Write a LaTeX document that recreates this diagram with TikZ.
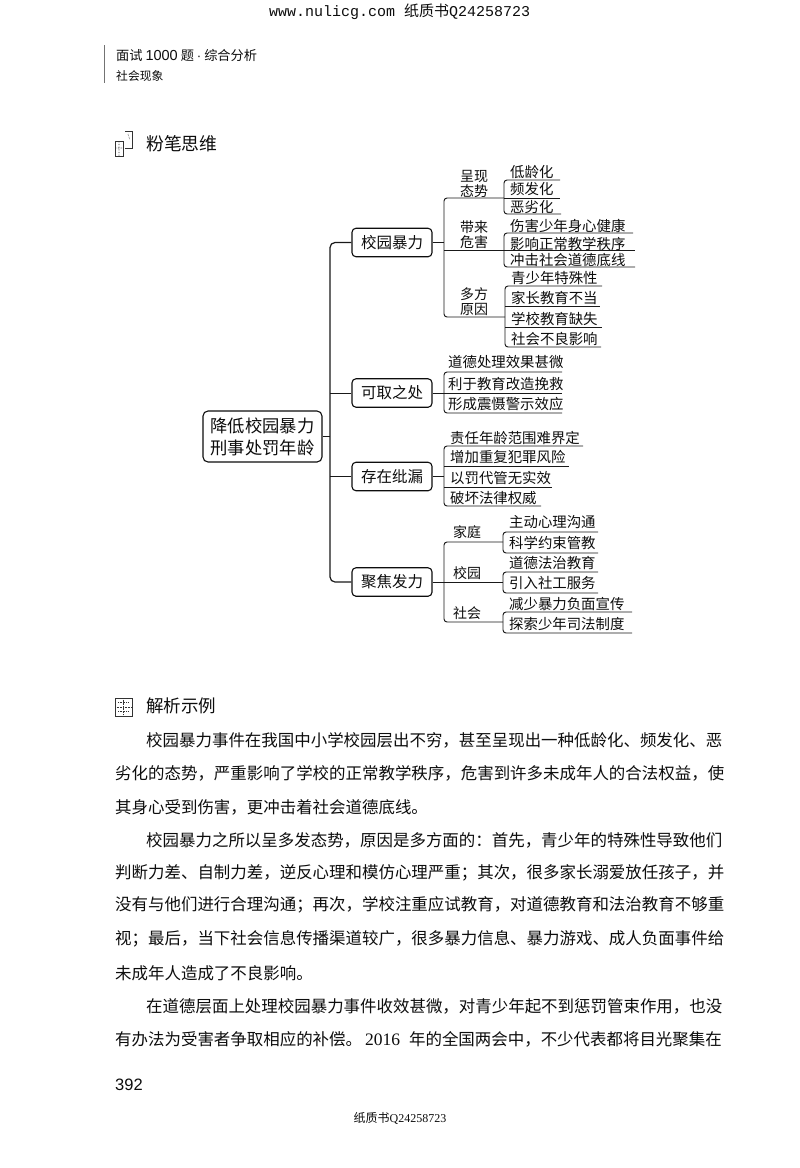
\documentclass[tikz,border=0pt]{standalone}
\usepackage{fontspec}
\setmainfont{Noto Sans CJK SC}
\newfontfamily\latinserif{Liberation Serif}
\newfontfamily\latinmono{Liberation Mono}
\newfontfamily\latinsans{Liberation Sans}
\newcommand\fs[2]{\fontsize{#1}{#2}\selectfont}
\tikzset{
  ink/.style={color=black!95},
  conn/.style={draw=black!90,line width=0.95pt},
  heavy/.style={draw=black!90,line width=1.2pt},
  rootbox/.style={draw=black!90,line width=1.1pt,rounded corners=5pt,minimum width=119pt,minimum height=51pt,inner sep=0pt,align=center,font=\fs{17.3}{22},ink},
  branchbox/.style={draw=black!90,line width=1.1pt,rounded corners=4pt,minimum width=80pt,minimum height=28.5pt,inner sep=0pt,font=\fs{15.5}{18},ink},
  midlabel/.style={inner sep=0pt,align=center,font=\fs{14}{15},ink},
  leaftext/.style={anchor=west,inner sep=0pt,font=\fs{14.4}{16},ink},
  bodytext/.style={anchor=west,inner sep=0pt,font=\fs{16.46}{18},ink},
}
% coordinates of one underline: name, x start, y, x end
\newcommand\ulc[4]{\coordinate (#1-a) at (#2,#3);\coordinate (#1-b) at (#4,#3);}
\newcommand\leaftxt[4]{\node[leaftext] (#1) at (#2,#3) {#4};}
\newcommand\bodyln[4]{\node[bodytext] (#1) at (#2,#3) {#4};}
\begin{document}
\begin{tikzpicture}[x=1pt,y=-1pt]
\useasboundingbox (0,0) rectangle (800,1168);
\fill[white] (0,0) rectangle (800,1168);
% page furniture
\node[inner sep=0pt,anchor=west,ink,font=\fs{15}{17}] (hdr) at (269,12) {{\latinmono www.nulicg.com }纸质书{\latinmono Q24258723}};
\coordinate (rt) at (104,45);\coordinate (rb) at (104,83);
\draw[draw=black!55,line width=1pt] (rt) -- (rb);
\node[inner sep=0pt,anchor=west,ink,font=\fs{13.2}{15}] (runa) at (116,55) {面试 {\latinsans\fs{14.5}{15}1000} 题 {\latinsans ·} 综合分析};
\node[inner sep=0pt,anchor=west,ink,font=\fs{11.8}{14}] (runb) at (116,76) {社会现象};
% icon 1
\draw[black!80,line width=0.7pt] (115,141) rectangle (123,156);
\draw[black!80,line width=0.7pt] (125,131) -- (132,131) -- (132,148) -- (125,148);
\draw[black!80,line width=0.6pt,densely dotted] (115,148) -- (123,148) (119,141) -- (119,156) (128,134) -- (130,140);
\node[inner sep=0pt,anchor=west,ink,font=\fs{17.8}{20}] (h1) at (146,144) {粉笔思维};
% root and branches
\node[rootbox] (root) at (262.5,436.5) {降低校园暴力\\刑事处罚年龄};
\node[branchbox] (b1) at (392,242.5) {校园暴力};
\node[branchbox] (b2) at (392,393) {可取之处};
\node[branchbox] (b3) at (392,476.5) {存在纰漏};
\node[branchbox] (b4) at (392,582) {聚焦发力};
\coordinate (tt) at (330,242.5);\coordinate (tb) at (330,582);
\coordinate (t2) at (330,393);\coordinate (t3) at (330,476.5);\coordinate (t0) at (330,436.5);
\draw[heavy,rounded corners=5pt] (b1.west) -- (tt) -- (tb) -- (b4.west);
\draw[conn] (root.east) -- (t0);
\draw[conn] (b2.west) -- (t2);
\draw[conn] (b3.west) -- (t3);
% 校园暴力
\ulc{sa}{444}{198}{504}\ulc{sb}{444}{250}{504}\ulc{sc}{444}{317}{505}
\coordinate (s1j) at (444,242.5);
\draw[conn,rounded corners=3pt] (sa-b) -- (sa-a) -- (sc-a) -- (sc-b);
\draw[conn] (sb-a) -- (sb-b);
\draw[conn] (b1.east) -- (s1j);
\node[midlabel] (m1) at (474,183.5) {呈现\\态势};
\node[midlabel] (m2) at (474,234.5) {带来\\危害};
\node[midlabel] (m3) at (474,301.5) {多方\\原因};
\ulc{a1}{504}{180}{560}\ulc{a2}{504}{198}{560}\ulc{a3}{504}{214}{561}
\draw[conn,rounded corners=3pt] (a1-b) -- (a1-a) -- (a3-a) -- (a3-b);
\draw[conn] (a2-a) -- (a2-b);
\leaftxt{ta1}{510}{172}{低龄化}\leaftxt{ta2}{510}{189}{频发化}\leaftxt{ta3}{510}{207}{恶劣化}
\ulc{c1}{504}{233}{633}\ulc{c2}{504}{250}{635}\ulc{c3}{504}{267}{635}
\draw[conn,rounded corners=3pt] (c1-b) -- (c1-a) -- (c3-a) -- (c3-b);
\draw[conn] (c2-a) -- (c2-b);
\leaftxt{tc1}{510}{226}{伤害少年身心健康}\leaftxt{tc2}{510}{244}{影响正常教学秩序}\leaftxt{tc3}{510}{260}{冲击社会道德底线}
\ulc{d1}{505}{286}{602}\ulc{d2}{505}{306}{600}\ulc{d3}{505}{327}{602}\ulc{d4}{505}{347}{601}
\draw[conn,rounded corners=3pt] (d1-b) -- (d1-a) -- (d4-a) -- (d4-b);
\draw[conn] (d2-a) -- (d2-b);\draw[conn] (d3-a) -- (d3-b);
\leaftxt{td1}{511}{278}{青少年特殊性}\leaftxt{td2}{511}{298}{家长教育不当}\leaftxt{td3}{511}{319}{学校教育缺失}\leaftxt{td4}{511}{339}{社会不良影响}
% 可取之处
\ulc{e1}{444}{372}{562}\ulc{e2}{444}{393}{562}\ulc{e3}{444}{413}{562}
\draw[conn,rounded corners=3pt] (e1-b) -- (e1-a) -- (e3-a) -- (e3-b);
\draw[conn] (b2.east) -- (e2-b);
\leaftxt{te1}{448}{362}{道德处理效果甚微}\leaftxt{te2}{448}{384}{利于教育改造挽救}\leaftxt{te3}{448}{404}{形成震慑警示效应}
% 存在纰漏
\ulc{f1}{444}{446}{583}\ulc{f2}{444}{466}{569}\ulc{f3}{444}{487}{552}\ulc{f4}{444}{506}{541}
\coordinate (f0) at (444,476.5);
\draw[conn,rounded corners=3pt] (f1-b) -- (f1-a) -- (f4-a) -- (f4-b);
\draw[conn] (f2-a) -- (f2-b);\draw[conn] (f3-a) -- (f3-b);
\draw[conn] (b3.east) -- (f0);
\leaftxt{tf1}{450}{438}{责任年龄范围难界定}\leaftxt{tf2}{450}{457}{增加重复犯罪风险}\leaftxt{tf3}{450}{478}{以罚代管无实效}\leaftxt{tf4}{450}{498}{破坏法律权威}
% 聚焦发力
\ulc{ga}{444}{542}{503}\ulc{gb}{444}{582}{503}\ulc{gc}{444}{622}{503}
\draw[conn,rounded corners=3pt] (ga-b) -- (ga-a) -- (gc-a) -- (gc-b);
\draw[conn] (b4.east) -- (gb-b);
\node[midlabel] (n1) at (467,532) {家庭};
\node[midlabel] (n2) at (467,573) {校园};
\node[midlabel] (n3) at (467,613) {社会};
\ulc{h1}{503}{532}{598}\ulc{h2}{503}{553}{598}
\draw[conn,rounded corners=3pt] (h1-b) -- (h1-a) -- (h2-a) -- (h2-b);
\leaftxt{th1}{509}{522}{主动心理沟通}\leaftxt{th2}{509}{543}{科学约束管教}
\ulc{i1}{503}{572}{598}\ulc{i2}{503}{593}{598}
\draw[conn,rounded corners=3pt] (i1-b) -- (i1-a) -- (i2-a) -- (i2-b);
\leaftxt{ti1}{509}{563}{道德法治教育}\leaftxt{ti2}{509}{583}{引入社工服务}
\ulc{j1}{503}{612}{632}\ulc{j2}{503}{633}{632}
\draw[conn,rounded corners=3pt] (j1-b) -- (j1-a) -- (j2-a) -- (j2-b);
\leaftxt{tj1}{509}{604}{减少暴力负面宣传}\leaftxt{tj2}{509}{624}{探索少年司法制度}
% icon 2
\draw[black!80,line width=0.7pt] (115,698) rectangle (132,716);
\draw[black!80,line width=0.6pt,densely dotted] (115,707) -- (132,707) (123.5,698) -- (123.5,716) (118,702) -- (129,702) (118,711) -- (129,711);
\node[inner sep=0pt,anchor=west,ink,font=\fs{17.5}{20}] (h2txt) at (146,706) {解析示例};
% body
\bodyln{l1}{146}{740}{校园暴力事件在我国中小学校园层出不穷，甚至呈现出一种低龄化、频发化、恶}
\bodyln{l2}{115}{773}{劣化的态势，严重影响了学校的正常教学秩序，危害到许多未成年人的合法权益，使}
\bodyln{l3}{115}{807}{其身心受到伤害，更冲击着社会道德底线。}
\bodyln{l4}{146}{840}{校园暴力之所以呈多发态势，原因是多方面的：首先，青少年的特殊性导致他们}
\bodyln{l5}{115}{873}{判断力差、自制力差，逆反心理和模仿心理严重；其次，很多家长溺爱放任孩子，并}
\bodyln{l6}{115}{905}{没有与他们进行合理沟通；再次，学校注重应试教育，对道德教育和法治教育不够重}
\bodyln{l7}{115}{939}{视；最后，当下社会信息传播渠道较广，很多暴力信息、暴力游戏、成人负面事件给}
\bodyln{l8}{115}{973}{未成年人造成了不良影响。}
\bodyln{l9}{146}{1006}{在道德层面上处理校园暴力事件收效甚微，对青少年起不到惩罚管束作用，也没}
\bodyln{l10}{115}{1039}{有办法为受害者争取相应的补偿。\hspace{3pt}{\latinserif\fs{17.5}{18}2016}\hspace{9pt}年的全国两会中，不少代表都将目光聚集在}
\node[inner sep=0pt,anchor=west,ink,font=\fs{16.5}{18}\latinsans] (pg) at (115,1085) {392};
\node[inner sep=0pt,ink,font=\fs{12}{14}] (ft) at (400,1118) {纸质书{\latinserif Q24258723}};
\end{tikzpicture}
\end{document}
